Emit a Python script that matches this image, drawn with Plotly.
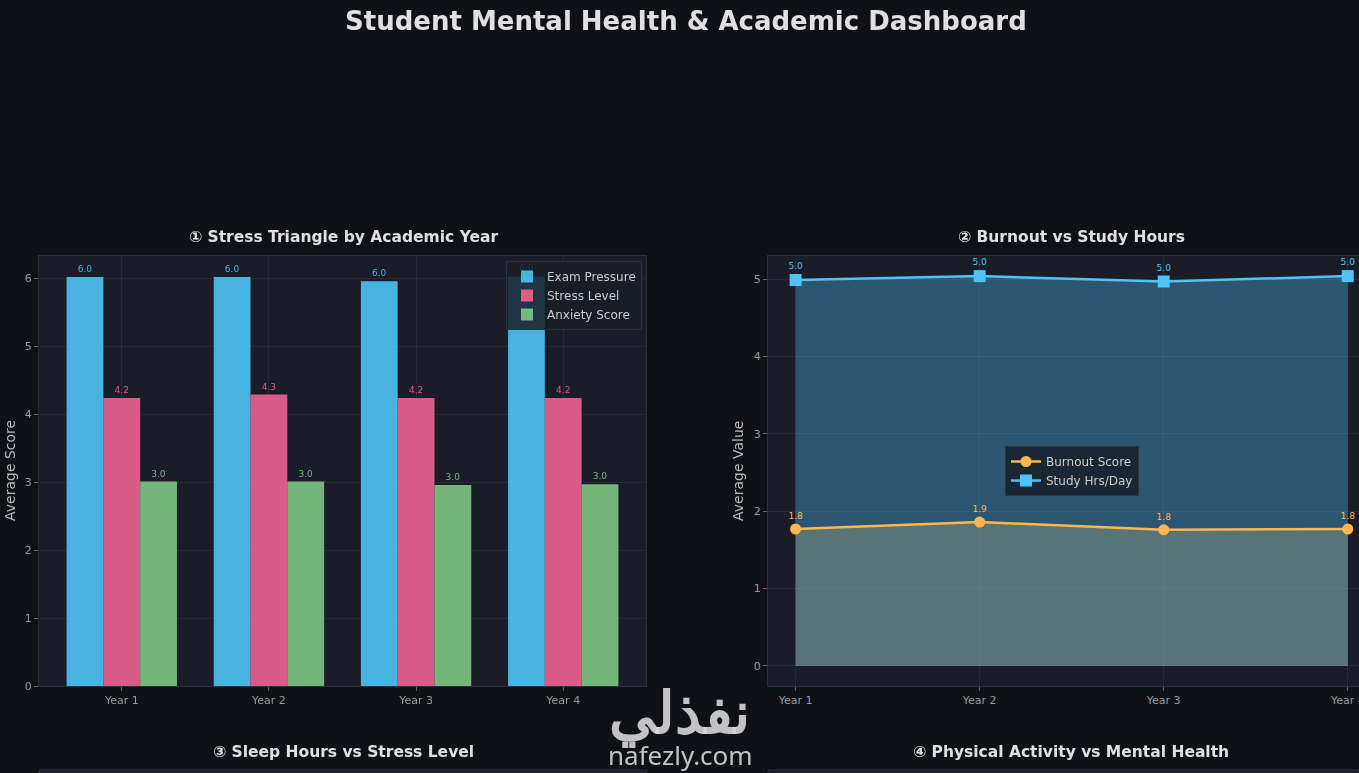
import plotly.graph_objects as go

W, H = 1359, 773

years = ["Year 1", "Year 2", "Year 3", "Year 4"]

# panel 1: stress triangle (average scores per year)
exam_pressure = [6.02, 6.02, 5.96, 6.03]
stress_level = [4.24, 4.29, 4.24, 4.24]
anxiety_score = [3.01, 3.01, 2.96, 2.97]

# panel 2: burnout vs study hours
burnout_score = [1.77, 1.86, 1.76, 1.77]
study_hours = [4.99, 5.04, 4.97, 5.04]

bottom_titles = ["③ Sleep Hours vs Stress Level", "④ Physical Activity vs Mental Health"]

BG = "#0f1117"
PANEL = "#1a1d27"
GRID = "rgba(255,255,255,0.06)"
SPINE = "#2c303c"
FONT = "DejaVu Sans"
BLUE, PINK, GREEN, ORANGE = "#4FC3F7", "#F06292", "#81C784", "#FFB74D"


def px(x):
    return x / W


def py(y):
    return 1 - y / H


fig = go.Figure()

# --- ① bars
for name, vals, col in [("Exam Pressure", exam_pressure, BLUE),
                        ("Stress Level", stress_level, PINK),
                        ("Anxiety Score", anxiety_score, GREEN)]:
    fig.add_trace(go.Bar(
        x=years, y=vals, name=name, marker=dict(color=col, line=dict(width=0)),
        opacity=0.9, text=[f"{v:.1f}" for v in vals], textposition="outside",
        textfont=dict(color=col, size=9, family=FONT), cliponaxis=False,
        xaxis="x", yaxis="y", legend="legend",
    ))

# --- ② fills first, lines on top
xi = list(range(len(years)))
fig.add_trace(go.Scatter(x=xi, y=burnout_score, mode="none", fill="tozeroy",
                         fillcolor="rgba(255,183,77,0.30)", showlegend=False,
                         hoverinfo="skip", xaxis="x2", yaxis="y2"))
fig.add_trace(go.Scatter(x=xi, y=study_hours, mode="none", fill="tozeroy",
                         fillcolor="rgba(79,195,247,0.35)", showlegend=False,
                         hoverinfo="skip", xaxis="x2", yaxis="y2"))
fig.add_trace(go.Scatter(
    x=xi, y=burnout_score, name="Burnout Score", mode="lines+markers+text",
    line=dict(color=ORANGE, width=2.5), marker=dict(symbol="circle", size=11, color=ORANGE),
    text=[f"{v:.1f}" for v in burnout_score], textposition="top center",
    textfont=dict(color=ORANGE, size=9, family=FONT), cliponaxis=False,
    xaxis="x2", yaxis="y2", legend="legend2",
))
fig.add_trace(go.Scatter(
    x=xi, y=study_hours, name="Study Hrs/Day", mode="lines+markers+text",
    line=dict(color=BLUE, width=2.5), marker=dict(symbol="square", size=12, color=BLUE),
    text=[f"{v:.1f}" for v in study_hours], textposition="top center",
    textfont=dict(color=BLUE, size=9, family=FONT), cliponaxis=False,
    xaxis="x2", yaxis="y2", legend="legend2",
))

axis_common = dict(showgrid=True, gridcolor=GRID, gridwidth=1, zeroline=False,
                   showline=True, mirror=True, linecolor=SPINE, linewidth=1,
                   ticks="outside", ticklen=4, tickcolor="#666",
                   ticklabeloverflow="allow", automargin=False,
                   tickfont=dict(color="#9a9a9a", size=11, family=FONT))

fig.update_layout(
    width=W, height=H, margin=dict(l=0, r=0, t=0, b=0, autoexpand=False),
    paper_bgcolor=BG, plot_bgcolor=PANEL,
    font=dict(family=FONT, color="#cccccc"),
    barmode="group", bargap=0.25, bargroupgap=0,
    xaxis=dict(domain=[px(39), px(646)], range=[-0.5625, 3.5625], anchor="y", **axis_common),
    yaxis=dict(domain=[py(686), py(256)], range=[0, 6.33], anchor="x",
               tickvals=[0, 1, 2, 3, 4, 5, 6], **axis_common),
    xaxis2=dict(domain=[px(768), 1.0], range=[-0.15, 3.061], anchor="y2",
                tickvals=xi, ticktext=years, **axis_common),
    yaxis2=dict(domain=[py(686), py(256)], range=[-0.26, 5.30], anchor="x2",
                tickvals=[0, 1, 2, 3, 4, 5], **axis_common),
    legend=dict(x=px(506), y=py(261), xanchor="left", yanchor="top",
                bgcolor="rgba(26,29,39,0.85)", bordercolor=SPINE, borderwidth=1,
                font=dict(size=12, color="#cccccc", family=FONT),
                tracegroupgap=0, itemwidth=30),
    legend2=dict(x=px(1072), y=py(471), xanchor="center", yanchor="middle",
                 bgcolor="rgba(22,30,42,0.85)", bordercolor="#2a3442", borderwidth=1,
                 font=dict(size=12, color="#cccccc", family=FONT), itemwidth=30),
    showlegend=True,
)

annos = [
    dict(text="<b>Student Mental Health & Academic Dashboard</b>", x=px(686), y=py(21),
         font=dict(size=26, color="#e0e0e0")),
    dict(text="<b>① Stress Triangle by Academic Year</b>", x=px(343), y=py(237),
         font=dict(size=15.5, color="#e0e0e0")),
    dict(text="<b>② Burnout vs Study Hours</b>", x=px(1071), y=py(237),
         font=dict(size=15.5, color="#e0e0e0")),
    dict(text=f"<b>{bottom_titles[0]}</b>", x=px(343), y=py(752),
         font=dict(size=15.5, color="#e0e0e0")),
    dict(text=f"<b>{bottom_titles[1]}</b>", x=px(1071), y=py(752),
         font=dict(size=15.5, color="#e0e0e0")),
    dict(text="Average Score", x=px(10), y=py(471), textangle=-90,
         font=dict(size=14, color="#bbbbbb")),
    dict(text="Average Value", x=px(738), y=py(471), textangle=-90,
         font=dict(size=14, color="#bbbbbb")),
    # watermark over the screenshot
    dict(text="<b>نفذلي</b>", x=px(679), y=py(710),
         font=dict(size=58, color="rgba(215,215,215,0.9)", family="Noto Sans")),
    dict(text="nafezly.com", x=px(680), y=py(755),
         font=dict(size=26, color="rgba(215,215,215,0.9)", family="Noto Sans")),
]
for a in annos:
    a.setdefault("xref", "paper")
    a.setdefault("yref", "paper")
    a.setdefault("showarrow", False)
    a.setdefault("xanchor", "center")
    a.setdefault("yanchor", "middle")
    a["font"].setdefault("family", FONT)
fig.update_layout(annotations=annos)

# top edge of the two bottom panels (cut off by the window)
for x0, x1 in [(39, 646), (768, W)]:
    fig.add_shape(type="rect", xref="paper", yref="paper",
                  x0=px(x0), x1=px(x1), y0=0, y1=py(770),
                  fillcolor=PANEL, line=dict(color=SPINE, width=1), layer="below")

fig.write_html("out.html", config={"displayModeBar": False},
               post_script="document.body.style.margin='0';")
